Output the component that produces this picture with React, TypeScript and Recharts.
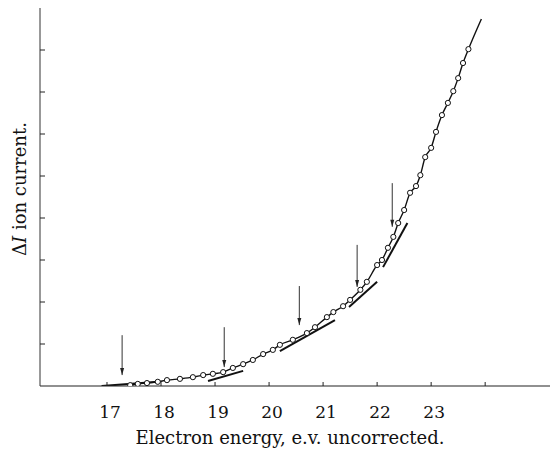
import { ComposedChart, Line, XAxis, YAxis } from 'recharts'

// ionisation efficiency curve (x = eV, y = arbitrary units)
const energies = [
  17.43, 17.57, 17.74, 17.94, 18.11, 18.35, 18.59, 18.78, 18.96, 19.15,
  19.33, 19.52, 19.70, 19.89, 20.07, 20.20, 20.44, 20.70, 20.85, 21.07,
  21.19, 21.37, 21.50, 21.69, 21.81, 22.00, 22.09, 22.20, 22.30, 22.39,
  22.50, 22.61, 22.72, 22.80, 22.89, 23.00, 23.09, 23.20, 23.31, 23.41,
  23.50, 23.59, 23.69,
]
const currents = [
  0.02, 0.05, 0.07, 0.10, 0.14, 0.17, 0.21, 0.26, 0.29, 0.33,
  0.43, 0.52, 0.62, 0.76, 0.86, 0.98, 1.10, 1.26, 1.40, 1.64,
  1.76, 1.90, 2.05, 2.29, 2.48, 2.88, 3.00, 3.29, 3.55, 3.88,
  4.19, 4.60, 4.76, 5.02, 5.45, 5.67, 6.05, 6.45, 6.74, 7.02,
  7.33, 7.69, 8.02,
]
// where the drawn curve stops above the last point
const curveEnd = { x: 23.93, y: 8.74 }

// straight-line fits drawn at the breaks: [x1, y1, x2, y2]
const tangents = [
  [16.9, 0.0, 17.95, 0.1],
  [18.87, 0.12, 19.52, 0.36],
  [20.2, 0.83, 21.22, 1.57],
  [21.48, 1.88, 22.0, 2.48],
  [22.11, 2.83, 22.56, 3.88],
]

// arrows marking the onsets: [x, top, tip]
const arrows = [
  [17.28, 1.21, 0.26],
  [19.17, 1.4, 0.45],
  [20.56, 2.38, 1.45],
  [21.63, 3.36, 2.36],
  [22.28, 4.83, 3.79],
]

const xTicks = [17, 18, 19, 20, 21, 22, 23, 24]
const xLabels = [17, 18, 19, 20, 21, 22, 23]
const yTicks = [1, 2, 3, 4, 5, 6, 7, 8]

const FONT = '"DejaVu Serif", "Liberation Serif", serif'

const points = energies.map((x, i) => ({ x, y: currents[i] }))
const curveData = [...points, curveEnd]

function OpenDot(props: any) {
  const { cx, cy, index } = props
  if (index >= points.length) return <g key={`d-${index}`} />
  return <circle key={`d-${index}`} cx={cx} cy={cy} r={2.6} fill="#fff" stroke="#111" strokeWidth={1} />
}

function ArrowHead(props: any) {
  const { cx, cy, index } = props
  if (index !== 1) return <g key={`a-${index}`} />
  return (
    <polygon
      key={`a-${index}`}
      points={`${cx},${cy} ${cx - 2},${cy - 7} ${cx + 2},${cy - 7}`}
      fill="#222"
    />
  )
}

function XTick(props: any) {
  const { x, payload } = props
  const v = payload.value
  return (
    <g>
      <line x1={x} x2={x} y1={386} y2={382} stroke="#222" strokeWidth={1} />
      {xLabels.includes(v) && (
        <text x={x + 3} y={418} textAnchor="middle" fontFamily={FONT} fontSize={17} fill="#111">
          {v}
        </text>
      )}
    </g>
  )
}

function YTick(props: any) {
  const { y } = props
  return <line x1={40} x2={45} y1={y} y2={y} stroke="#222" strokeWidth={1} />
}

export default function App() {
  return (
    <div style={{ position: 'absolute', left: 0, top: 0, width: 556, height: 458, background: '#fff' }}>
      <ComposedChart width={556} height={458} margin={{ top: 8, right: 6, bottom: 0, left: 39 }}>
        <XAxis
          type="number"
          dataKey="x"
          domain={[15.76, 25.2]}
          ticks={xTicks}
          allowDataOverflow
          height={72}
          tickLine={false}
          tick={XTick}
          axisLine={{ stroke: '#222', strokeWidth: 1.2 }}
          label={{
            content: () => (
              <text x={290} y={444} textAnchor="middle" fontFamily={FONT} fontSize={18} fill="#111">
                Electron energy, e.v. uncorrected.
              </text>
            ),
          }}
        />
        <YAxis
          type="number"
          dataKey="y"
          domain={[0, 9]}
          ticks={yTicks}
          allowDataOverflow
          width={1}
          tickLine={false}
          tick={YTick}
          axisLine={{ stroke: '#333', strokeWidth: 1 }}
          label={{
            content: () => (
              <text
                x={26}
                y={189}
                textAnchor="middle"
                transform="rotate(-90, 26, 189)"
                fontFamily={FONT}
                fontSize={18}
                fill="#111"
              >
                Δ<tspan fontStyle="italic">I</tspan> ion current.
              </text>
            ),
          }}
        />
        <Line
          data={curveData}
          dataKey="y"
          type="monotone"
          stroke="#111"
          strokeWidth={1.4}
          dot={OpenDot}
          activeDot={false}
          isAnimationActive={false}
        />
        {tangents.map((t, i) => (
          <Line
            key={`t-${i}`}
            data={[{ x: t[0], y: t[1] }, { x: t[2], y: t[3] }]}
            dataKey="y"
            type="linear"
            stroke="#111"
            strokeWidth={2}
            dot={false}
            activeDot={false}
            isAnimationActive={false}
          />
        ))}
        {arrows.map((a, i) => (
          <Line
            key={`a-${i}`}
            data={[{ x: a[0], y: a[1] }, { x: a[0], y: a[2] }]}
            dataKey="y"
            type="linear"
            stroke="#333"
            strokeWidth={1}
            dot={ArrowHead}
            activeDot={false}
            isAnimationActive={false}
          />
        ))}
      </ComposedChart>
    </div>
  )
}
